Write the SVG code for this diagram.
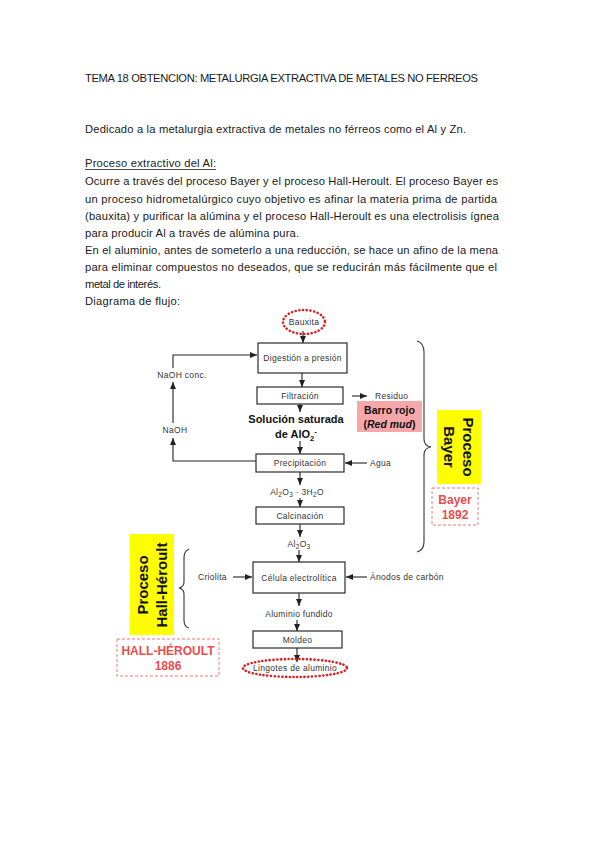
<svg xmlns="http://www.w3.org/2000/svg" width="599" height="848" viewBox="0 0 599 848">
<defs>
<marker id="ah" markerUnits="userSpaceOnUse" markerWidth="8" markerHeight="6" refX="7" refY="3" orient="auto">
<path d="M0,0 L7,3 L0,6 z" fill="#222"/>
</marker>
<style>
.body{font-family:"Liberation Sans",Arial,sans-serif;font-size:11.2px;fill:#1a1a1a}
.lbl{font-family:"Liberation Sans",Arial,sans-serif;font-size:8.5px;fill:#333;letter-spacing:0.3px;text-anchor:middle}
.lbll{font-family:"Liberation Sans",Arial,sans-serif;font-size:8.5px;fill:#333;letter-spacing:0.3px}
.box{fill:#fff;stroke:#2a2a2a;stroke-width:1.2}
.bold{font-family:"Liberation Sans",Arial,sans-serif;font-weight:bold;fill:#111;text-anchor:middle}
.red{font-family:"Liberation Sans",Arial,sans-serif;font-weight:bold;font-size:12px;fill:#ea4d4d;text-anchor:middle}
.dash{fill:#fff;stroke:#ec7a7a;stroke-width:1;stroke-dasharray:3 2}
.dots{fill:none;stroke:#e0201f;stroke-width:2.6;stroke-linecap:round;stroke-dasharray:0.1 3.6}
.yel{fill:#ffff00}
.conn{fill:none;stroke:#222;stroke-width:1.1}
.brace{fill:none;stroke:#333;stroke-width:1.1}
</style>
</defs>

<g id="text-body">
<text class="body" x="85" y="82" textLength="393">TEMA 18 OBTENCION: METALURGIA EXTRACTIVA DE METALES NO FERREOS</text>
<text class="body" x="85" y="133" textLength="381">Dedicado a la metalurgia extractiva de metales no férreos como el Al y Zn.</text>
<text class="body" x="85" y="167" textLength="131">Proceso extractivo del Al:</text>
<line x1="85" y1="169.5" x2="216" y2="169.5" stroke="#1a1a1a" stroke-width="0.8"/>
<text class="body" x="85" y="185" textLength="413">Ocurre a través del proceso Bayer y el proceso Hall-Heroult. El proceso Bayer es</text>
<text class="body" x="85" y="202.5" textLength="412">un proceso hidrometalúrgico cuyo objetivo es afinar la materia prima de partida</text>
<text class="body" x="85" y="220" textLength="414">(bauxita) y purificar la alúmina y el proceso Hall-Heroult es una electrolisis ígnea</text>
<text class="body" x="85" y="237" textLength="214">para producir Al a través de alúmina pura.</text>
<text class="body" x="85" y="254" textLength="413">En el aluminio, antes de someterlo a una reducción, se hace un afino de la mena</text>
<text class="body" x="85" y="271" textLength="412">para eliminar compuestos no deseados, que se reducirán más fácilmente que el</text>
<text class="body" x="85" y="288" textLength="76">metal de interés.</text>
<text class="body" x="85" y="305" textLength="95">Diagrama de flujo:</text>
</g>

<g id="connectors">
<path class="conn" d="M303,331 L303,343" marker-end="url(#ah)"/>
<path class="conn" d="M302,373 L302,387" marker-end="url(#ah)"/>
<path class="conn" d="M300,404 L300,412" marker-end="url(#ah)"/>
<path class="conn" d="M300,441 L300,454" marker-end="url(#ah)"/>
<path class="conn" d="M367,463 L345,463" marker-end="url(#ah)"/>
<path class="conn" d="M352,396 L367,396" marker-end="url(#ah)"/>
<path class="conn" d="M256,461 L173,461 L173,438" marker-end="url(#ah)"/>
<path class="conn" d="M173,423 L173,382" marker-end="url(#ah)"/>
<path class="conn" d="M173,368 L173,355 L257,355" marker-end="url(#ah)"/>
<path class="conn" d="M300,472 L300,485" marker-end="url(#ah)"/>
<path class="conn" d="M300,498 L300,507" marker-end="url(#ah)"/>
<path class="conn" d="M300,524 L300,537" marker-end="url(#ah)"/>
<path class="conn" d="M299,550 L299,562" marker-end="url(#ah)"/>
<path class="conn" d="M233,577 L252,577" marker-end="url(#ah)"/>
<path class="conn" d="M367,577 L346,577" marker-end="url(#ah)"/>
<path class="conn" d="M299,593 L299,606" marker-end="url(#ah)"/>
<path class="conn" d="M297,620 L297,631" marker-end="url(#ah)"/>
<path class="conn" d="M297,648 L297,662" marker-end="url(#ah)"/>
</g>

<g id="bauxita">
<ellipse class="dots" cx="304" cy="322" rx="21" ry="12"/>
<text class="lbl" x="304" y="325">Bauxita</text>
</g>
<g id="digestion">
<rect class="box" x="258" y="343" width="89" height="30"/>
<text class="lbl" x="302.5" y="361">Digestión a presión</text>
</g>
<g id="filtracion">
<rect class="box" x="257" y="387" width="86" height="17"/>
<text class="lbl" x="300" y="398.5">Filtración</text>
</g>
<g id="residuo">
<text class="lbll" x="375" y="399">Residuo</text>
</g>
<g id="barro-rojo">
<rect x="357" y="401" width="65" height="31" fill="#f5a7a9"/>
<text class="bold" x="389.5" y="414" font-size="10.5">Barro rojo</text>
<text class="bold" x="389.5" y="428" font-size="10.5">(<tspan font-style="italic">Red mud</tspan>)</text>
</g>
<g id="solucion">
<text class="bold" x="296" y="423" font-size="11">Solución saturada</text>
<text class="bold" x="296" y="438" font-size="11">de AlO<tspan font-size="7.5" dy="2.5">2</tspan><tspan font-size="8" dy="-7">-</tspan></text>
</g>
<g id="naoh-conc">
<text class="lbl" x="182" y="378">NaOH conc.</text>
</g>
<g id="naoh">
<text class="lbl" x="175" y="433">NaOH</text>
</g>
<g id="precipitacion">
<rect class="box" x="256" y="454" width="88" height="18"/>
<text class="lbl" x="300" y="466">Precipitación</text>
</g>
<g id="agua">
<text class="lbll" x="370" y="466">Agua</text>
</g>
<g id="hidrato">
<text class="lbl" x="297" y="495">Al<tspan font-size="6.5" dy="2">2</tspan><tspan dy="-2">O</tspan><tspan font-size="6.5" dy="2">3</tspan><tspan dy="-2"> · 3H</tspan><tspan font-size="6.5" dy="2">2</tspan><tspan dy="-2">O</tspan></text>
</g>
<g id="calcinacion">
<rect class="box" x="256" y="507" width="88" height="17"/>
<text class="lbl" x="300" y="518.5">Calcinación</text>
</g>
<g id="alumina">
<text class="lbl" x="299" y="547">Al<tspan font-size="6.5" dy="2">2</tspan><tspan dy="-2">O</tspan><tspan font-size="6.5" dy="2">3</tspan></text>
</g>
<g id="celula">
<rect class="box" x="253" y="562" width="92" height="31"/>
<text class="lbl" x="299" y="581">Célula electrolítica</text>
</g>
<g id="criolita">
<text class="lbll" x="198" y="580">Criolita</text>
</g>
<g id="anodos">
<text class="lbll" x="370" y="580">Ánodos de carbón</text>
</g>
<g id="aluminio-fundido">
<text class="lbl" x="299" y="617">Aluminio fundido</text>
</g>
<g id="moldeo">
<rect class="box" x="253" y="631" width="89" height="17"/>
<text class="lbl" x="297.5" y="642.5">Moldeo</text>
</g>
<g id="lingotes">
<ellipse class="dots" cx="295" cy="668" rx="52" ry="9"/>
<text class="lbl" x="295" y="671">Lingotes de aluminio</text>
</g>

<g id="bayer-group">
<path class="brace" d="M417,341 Q424,343 424,352 L424,439 Q424,446 431,447 Q424,448 424,455 L424,542 Q424,550 417,552"/>
<rect class="yel" x="437" y="410" width="44" height="74"/>
<g transform="translate(459,447) rotate(90)">
<text class="bold" x="0" y="-4" font-size="15">Proceso</text>
<text class="bold" x="0" y="15" font-size="15">Bayer</text>
</g>
<rect class="dash" x="432" y="488" width="46" height="37"/>
<text class="red" x="455" y="504">Bayer</text>
<text class="red" x="455" y="519">1892</text>
</g>

<g id="hall-heroult-group">
<path class="brace" d="M189,549 Q184,551 184,558 L184,582 Q184,587 179,588 Q184,589 184,594 L184,620 Q184,627 189,628"/>
<rect class="yel" x="130" y="534" width="44" height="101"/>
<g transform="translate(152,585) rotate(-90)">
<text class="bold" x="0" y="-4" font-size="15">Proceso</text>
<text class="bold" x="0" y="15" font-size="15">Hall-Héroult</text>
</g>
<rect class="dash" x="117" y="639" width="102" height="37"/>
<text class="red" x="168" y="655">HALL-HÉROULT</text>
<text class="red" x="168" y="670">1886</text>
</g>
</svg>
